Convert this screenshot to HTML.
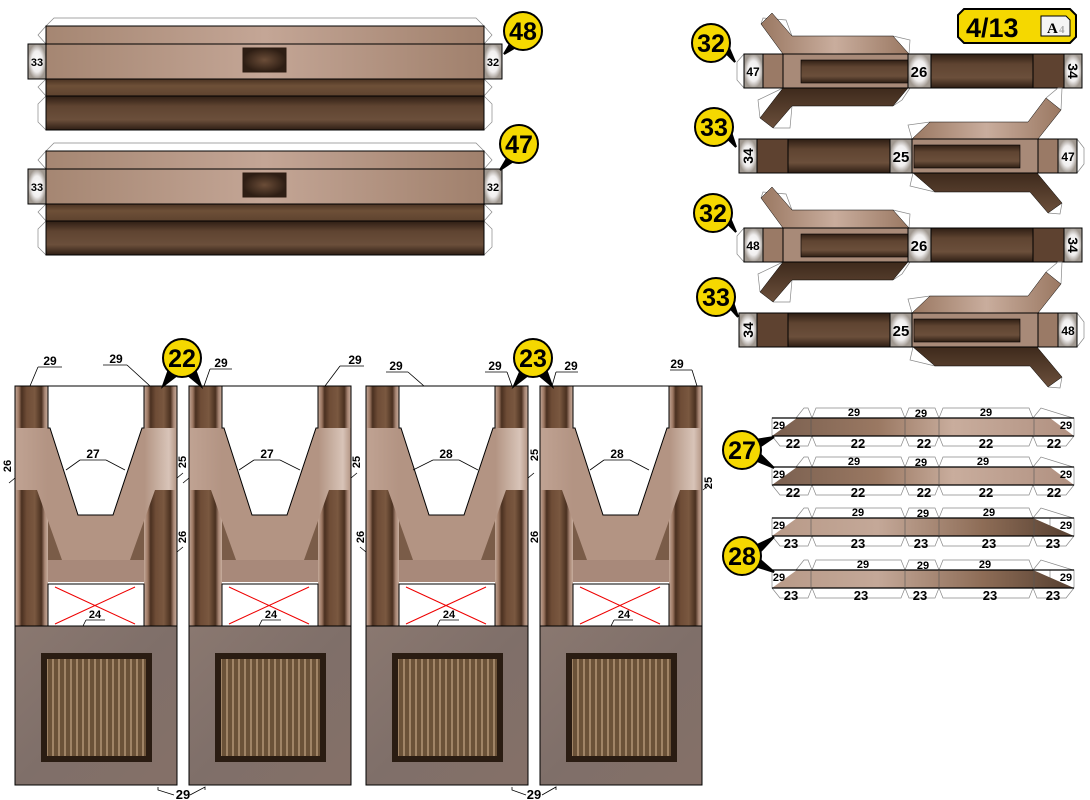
<!DOCTYPE html>
<html><head><meta charset="utf-8"><style>
html,body{margin:0;padding:0;background:#fff}
svg{display:block}
text{font-family:"Liberation Sans",sans-serif;font-weight:bold;fill:#000}
</style></head><body>
<svg width="1090" height="800" viewBox="0 0 1090 800" xmlns="http://www.w3.org/2000/svg">
<defs>
<linearGradient id="col" x1="0" x2="1" y1="0" y2="0">
<stop offset="0" stop-color="#c4a898"/><stop offset=".12" stop-color="#9a7560"/><stop offset=".2" stop-color="#4a3020"/><stop offset=".35" stop-color="#6e4c36"/><stop offset=".6" stop-color="#7a5840"/><stop offset=".8" stop-color="#4a3020"/><stop offset=".9" stop-color="#a88674"/><stop offset="1" stop-color="#c8ae9e"/>
</linearGradient>
<linearGradient id="band" x1="0" x2="1"><stop offset="0" stop-color="#c0a393"/><stop offset=".2" stop-color="#b39483"/><stop offset=".8" stop-color="#b39483"/><stop offset=".95" stop-color="#d8c4b8"/><stop offset="1" stop-color="#b39483"/></linearGradient>
<linearGradient id="dk" x1="0" x2="0" y1="0" y2="1"><stop offset="0" stop-color="#2e1e14"/><stop offset=".3" stop-color="#5f4431"/><stop offset=".7" stop-color="#6b4f3b"/><stop offset="1" stop-color="#2e1e14"/></linearGradient>
<linearGradient id="md" x1="0" x2="0" y1="0" y2="1"><stop offset="0" stop-color="#4a3222"/><stop offset=".4" stop-color="#6e5038"/><stop offset="1" stop-color="#5e432f"/></linearGradient>
<linearGradient id="lt" x1="0" x2="1"><stop offset="0" stop-color="#a58672"/><stop offset=".5" stop-color="#c4a696"/><stop offset="1" stop-color="#a0806c"/></linearGradient>
<radialGradient id="tab"><stop offset="0" stop-color="#fff"/><stop offset=".6" stop-color="#f0eeee"/><stop offset="1" stop-color="#a09890"/></radialGradient>
<radialGradient id="win"><stop offset="0" stop-color="#6b4d38"/><stop offset="1" stop-color="#2e1e14"/></radialGradient>
<linearGradient id="grey" x1="0" x2="1" y1="0" y2="1"><stop offset="0" stop-color="#8a7870"/><stop offset=".5" stop-color="#7f6f69"/><stop offset="1" stop-color="#857068"/></linearGradient>
<pattern id="stripe" width="6" height="10" patternUnits="userSpaceOnUse"><rect width="6" height="10" fill="#6b5238"/><rect x="1" width="2" height="10" fill="#a08466"/></pattern>
<linearGradient id="sm1" x1="0" x2="1"><stop offset="0" stop-color="#7a6050"/><stop offset=".35" stop-color="#9a7862"/><stop offset=".6" stop-color="#c9ad9d"/><stop offset="1" stop-color="#b09080"/></linearGradient>
<linearGradient id="sm2" x1="0" x2="1"><stop offset="0" stop-color="#b89a88"/><stop offset=".35" stop-color="#c4a898"/><stop offset=".7" stop-color="#8d6c56"/><stop offset=".95" stop-color="#5e4636"/></linearGradient>
<linearGradient id="flT" x1="0" x2="1"><stop offset="0" stop-color="#9a7862"/><stop offset=".5" stop-color="#c9ad9d"/><stop offset="1" stop-color="#9a7862"/></linearGradient>
<linearGradient id="flB" x1="0" x2="0" y1="0" y2="1"><stop offset="0" stop-color="#3e2a1c"/><stop offset="1" stop-color="#6b4f3b"/></linearGradient>

<g id="piece">
<rect x="0" y="0" width="162" height="240" fill="#fff"/>
<rect x="0" y="0" width="33" height="240" fill="url(#col)"/>
<rect x="129" y="0" width="33" height="240" fill="url(#col)"/>
<rect x="33" y="104" width="96" height="70" fill="#7a5c48"/>
<polygon points="0,42 162,42 162,104 140,104 115,174 47,174 22,104 0,104" fill="url(#band)"/>
<polygon points="35,42 63,129 98,129 127,42" fill="#fff"/>
<polyline points="33,0 33,42 35,42 63,129 98,129 127,42 129,42 129,0" fill="none" stroke="#000" stroke-width="1"/>
<rect x="33" y="174" width="96" height="22" fill="#a8897a"/>
<rect x="33" y="198" width="96" height="42" fill="#fff" stroke="#000"/>
<line x1="40" y1="201" x2="120" y2="238" stroke="#e00" stroke-width="1"/>
<line x1="40" y1="238" x2="120" y2="201" stroke="#e00" stroke-width="1"/>
<rect x="0" y="240" width="162" height="159" fill="url(#grey)"/>
<rect x="26" y="267" width="111" height="109" fill="#2a1c12"/>
<rect x="32" y="273" width="99" height="97" fill="url(#stripe)"/>
<rect x="0" y="0" width="162" height="399" fill="none" stroke="#000"/>
<line x1="0" y1="240" x2="162" y2="240" stroke="#000"/>
</g>
<g id="sm">
<path d="M796,0 L804,-10 H808 L812,0 M812,0 L816,-10 H901 L905,0 M905,0 L909,-10 H935 L939,0 M939,0 L943,-10 H1029 L1033,0 M1033,0 L1041,-10 L1073,0 M772,18 L780,28 H808 L812,18 M812,18 L816,28 H901 L905,18 M905,18 L909,28 H935 L939,18 M939,18 L943,28 H1029 L1033,18 M1033,18 L1037,28 H1066 L1074,18" fill="none" stroke="#888" stroke-width=".7"/>
<rect x="772" y="0" width="25" height="18" fill="none" stroke="#888" stroke-width=".7"/>
<rect x="1050" y="0" width="24" height="18" fill="none" stroke="#888" stroke-width=".7"/>
</g>
</defs>

<!-- top left panels -->
<g id="p48">
<path d="M46,26 L54,18 H476 L484,26 M46,26 L38,35 L46,44 M484,26 L492,35 L484,44 M46,79 L38,87 L46,96 M484,79 L492,87 L484,96 M46,96 L38,104 V122 L46,130 M484,96 L492,104 V122 L484,130" fill="none" stroke="#888" stroke-width=".7"/>
<rect x="46" y="26" width="438" height="18" fill="url(#lt)"/>
<rect x="46" y="44" width="438" height="35" fill="url(#lt)"/>
<rect x="46" y="79" width="438" height="17" fill="url(#md)"/>
<rect x="46" y="96" width="438" height="34" fill="url(#dk)"/>
<rect x="243" y="48" width="43" height="24" fill="url(#win)" stroke="#2a1a10"/>
<rect x="46" y="26" width="438" height="104" fill="none" stroke="#000"/>
<line x1="46" y1="44" x2="484" y2="44" stroke="#000"/><line x1="46" y1="79" x2="484" y2="79" stroke="#000"/><line x1="46" y1="96" x2="484" y2="96" stroke="#000"/>
<rect x="28" y="44" width="18" height="35" fill="url(#tab)" stroke="#000"/>
<rect x="484" y="44" width="18" height="35" fill="url(#tab)" stroke="#000"/>
<text x="37" y="66" font-size="11" text-anchor="middle" font-weight="normal">33</text>
<text x="493" y="66" font-size="11" text-anchor="middle" font-weight="normal">32</text>
</g>
<use href="#p48" transform="translate(0,125)"/>

<!-- badges -->
<g stroke="#000" stroke-width="2">
<polygon points="510,44 504,54 516,47" fill="#000"/>
<circle cx="523" cy="31" r="19" fill="#f5d800"/>
<polygon points="506,160 500,170 512,162" fill="#000"/>
<circle cx="519" cy="144" r="19" fill="#f5d800"/>
</g>
<text x="523" y="40" font-size="25" text-anchor="middle">48</text>
<text x="519" y="153" font-size="25" text-anchor="middle">47</text>

<!-- page label -->
<polygon points="964,9 1070,9 1076,15 1076,37 1070,43 964,43 958,37 958,15" fill="#f5d800" stroke="#000" stroke-width="2"/>
<text x="966" y="37" font-size="27">4/13</text>
<polygon points="1041,16 1066,16 1070,20 1070,36 1041,36" fill="#f4f4f4" stroke="#000"/>
<text x="1047" y="33" font-size="15" style="font-family:'Liberation Serif',serif">A</text>
<text x="1059" y="33" font-size="11" style="fill:#aaa;font-family:'Liberation Serif',serif">4</text>

<!-- right strips type 32 -->
<g id="s32">
<path d="M761,24 L763,18 L786,20 L792,36 M893,36 L910,40 L909,54 M760,118 L758,100 L783,88 M893,106 L902,100 L910,88 M773,128 L790,128 L792,106 M744,54 L737,62 V80 L744,88" fill="none" stroke="#888" stroke-width=".7"/>
<polygon points="772,13 792,36 893,36 909,54 783,54 761,24" fill="url(#flT)" stroke="#000" stroke-width=".5"/>
<polygon points="783,88 908,88 893,106 792,106 773,128 760,118" fill="url(#flB)" stroke="#000" stroke-width=".5"/>
<rect x="744" y="54" width="338" height="34" fill="url(#dk)"/>
<rect x="763" y="54" width="20" height="34" fill="#9a7a66"/>
<rect x="783" y="54" width="125" height="34" fill="#a88a78"/>
<rect x="801" y="60" width="107" height="23" fill="url(#dk)" stroke="#000" stroke-width=".6"/>
<rect x="1033" y="54" width="31" height="34" fill="#5e4230"/>
<rect x="744" y="54" width="338" height="34" fill="none" stroke="#000"/>
<line x1="763" y1="54" x2="763" y2="88" stroke="#000"/><line x1="783" y1="54" x2="783" y2="88" stroke="#000"/><line x1="1033" y1="54" x2="1033" y2="88" stroke="#000"/>
<rect x="744" y="54" width="19" height="34" fill="url(#tab)" stroke="#000"/>
<rect x="908" y="54" width="23" height="34" fill="url(#tab)" stroke="#000"/>
<rect x="1064" y="54" width="18" height="34" fill="url(#tab)" stroke="#000"/>
<text x="919" y="77" font-size="15" text-anchor="middle">26</text>
<text x="1073" y="71" font-size="14" text-anchor="middle" transform="rotate(90 1073 71)" dy="5">34</text>
</g>
<text x="753" y="76" font-size="12" text-anchor="middle">47</text>
<use href="#s32" transform="translate(0,174)"/>
<text x="753" y="250" font-size="12" text-anchor="middle">48</text>

<g id="s33">
<path d="M912,139 L908,125 L930,122 M1046,98 L1058,88 L1062,88 L1061,110 M913,173 L910,186 L935,192 M1048,213 L1060,214 L1062,203 M1077,139 L1084,148 V164 L1077,173" fill="none" stroke="#888" stroke-width=".7"/>
<polygon points="912,139 930,122 1028,122 1046,98 1061,110 1038,139" fill="url(#flT)" stroke="#000" stroke-width=".5"/>
<polygon points="913,173 1037,173 1062,203 1048,213 1030,192 935,192" fill="url(#flB)" stroke="#000" stroke-width=".5"/>
<rect x="739" y="139" width="338" height="34" fill="url(#dk)"/>
<rect x="757" y="139" width="31" height="34" fill="#5e4230"/>
<rect x="912" y="139" width="126" height="34" fill="#a88a78"/>
<rect x="914" y="145" width="106" height="23" fill="url(#dk)" stroke="#000" stroke-width=".6"/>
<rect x="1038" y="139" width="20" height="34" fill="#9a7a66"/>
<rect x="739" y="139" width="338" height="34" fill="none" stroke="#000"/>
<line x1="757" y1="139" x2="757" y2="173" stroke="#000"/><line x1="788" y1="139" x2="788" y2="173" stroke="#000"/><line x1="1038" y1="139" x2="1038" y2="173" stroke="#000"/>
<rect x="739" y="139" width="18" height="34" fill="url(#tab)" stroke="#000"/>
<rect x="890" y="139" width="22" height="34" fill="url(#tab)" stroke="#000"/>
<rect x="1058" y="139" width="19" height="34" fill="url(#tab)" stroke="#000"/>
<text x="901" y="162" font-size="15" text-anchor="middle">25</text>
<text x="748" y="156" font-size="14" text-anchor="middle" transform="rotate(-90 748 156)" dy="5">34</text>
</g>
<text x="1068" y="161" font-size="12" text-anchor="middle">47</text>
<use href="#s33" transform="translate(0,174)"/>
<text x="1068" y="335" font-size="12" text-anchor="middle">48</text>

<!-- right badges -->
<g stroke="#000" stroke-width="2">
<polygon points="725,52 735,62 729,48" fill="#000"/><circle cx="711" cy="43" r="19" fill="#f5d800"/>
<polygon points="727,138 736,147 731,132" fill="#000"/><circle cx="714" cy="127" r="19" fill="#f5d800"/>
<polygon points="726,222 736,232 730,218" fill="#000"/><circle cx="713" cy="213" r="19" fill="#f5d800"/>
<polygon points="729,307 738,317 733,302" fill="#000"/><circle cx="716" cy="297" r="19" fill="#f5d800"/>
</g>
<text x="711" y="52" font-size="25" text-anchor="middle">32</text>
<text x="714" y="136" font-size="25" text-anchor="middle">33</text>
<text x="713" y="222" font-size="25" text-anchor="middle">32</text>
<text x="716" y="306" font-size="25" text-anchor="middle">33</text>

<!-- small strips -->
<use href="#sm" transform="translate(0,418)"/><use href="#sm" transform="translate(0,467)"/><use href="#sm" transform="translate(0,518)"/><use href="#sm" transform="translate(0,570)"/>
<polygon points="797,418 1050,418 1074,436 772,436" fill="url(#sm1)"/>
<polygon points="797,467 1050,467 1074,485 772,485" fill="url(#sm1)"/>
<polygon points="797,518 1033,518 1074,536 772,536" fill="url(#sm2)"/>
<polygon points="797,570 1033,570 1074,588 772,588" fill="url(#sm2)"/>
<g stroke="#000" stroke-width="1.2">
<line x1="772" y1="418" x2="1074" y2="418"/><line x1="772" y1="436" x2="1074" y2="436"/>
<line x1="772" y1="467" x2="1074" y2="467"/><line x1="772" y1="485" x2="1074" y2="485"/>
<line x1="772" y1="518" x2="1074" y2="518"/><line x1="772" y1="536" x2="1074" y2="536"/>
<line x1="772" y1="570" x2="1074" y2="570"/><line x1="772" y1="588" x2="1074" y2="588"/>
</g>
<g stroke="#555" stroke-width=".6">
<line x1="811" y1="418" x2="811" y2="436"/><line x1="905" y1="418" x2="905" y2="436"/><line x1="939" y1="418" x2="939" y2="436"/><line x1="1034" y1="418" x2="1034" y2="436"/>
<line x1="811" y1="467" x2="811" y2="485"/><line x1="905" y1="467" x2="905" y2="485"/><line x1="939" y1="467" x2="939" y2="485"/><line x1="1034" y1="467" x2="1034" y2="485"/>
<line x1="811" y1="518" x2="811" y2="536"/><line x1="905" y1="518" x2="905" y2="536"/><line x1="939" y1="518" x2="939" y2="536"/><line x1="1034" y1="518" x2="1034" y2="536"/>
<line x1="811" y1="570" x2="811" y2="588"/><line x1="905" y1="570" x2="905" y2="588"/><line x1="939" y1="570" x2="939" y2="588"/><line x1="1034" y1="570" x2="1034" y2="588"/>
</g>
<g font-size="11" text-anchor="middle">
<text x="854" y="416">29</text><text x="921" y="417">29</text><text x="986" y="416">29</text><text x="779" y="429">29</text><text x="1066" y="429">29</text>
<text x="854" y="465">29</text><text x="921" y="466">29</text><text x="983" y="465">29</text><text x="779" y="478">29</text><text x="1066" y="478">29</text>
<text x="858" y="516">29</text><text x="923" y="517">29</text><text x="989" y="516">29</text><text x="779" y="529">29</text><text x="1066" y="529">29</text>
<text x="863" y="568">29</text><text x="923" y="569">29</text><text x="985" y="568">29</text><text x="779" y="581">29</text><text x="1066" y="581">29</text>
</g>
<g font-size="13" text-anchor="middle">
<text x="793" y="448">22</text><text x="858" y="448">22</text><text x="924" y="448">22</text><text x="986" y="448">22</text><text x="1054" y="448">22</text>
<text x="793" y="497">22</text><text x="858" y="497">22</text><text x="924" y="497">22</text><text x="986" y="497">22</text><text x="1054" y="497">22</text>
<text x="791" y="548">23</text><text x="858" y="548">23</text><text x="921" y="548">23</text><text x="989" y="548">23</text><text x="1053" y="548">23</text>
<text x="791" y="600">23</text><text x="861" y="600">23</text><text x="920" y="600">23</text><text x="990" y="600">23</text><text x="1053" y="600">23</text>
</g>
<g stroke="#000" stroke-width="2">
<polygon points="755,440 774,437 758,448" fill="#000"/><polygon points="755,460 774,468 758,452" fill="#000"/>
<circle cx="742" cy="450" r="19" fill="#f5d800"/>
<polygon points="755,546 774,537 758,554" fill="#000"/><polygon points="755,566 774,572 758,558" fill="#000"/>
<circle cx="742" cy="556" r="19" fill="#f5d800"/>
</g>
<text x="742" y="459" font-size="25" text-anchor="middle">27</text>
<text x="742" y="565" font-size="25" text-anchor="middle">28</text>

<!-- bottom pieces -->
<use href="#piece" transform="translate(15,386)"/>
<use href="#piece" transform="translate(189,386)"/>
<use href="#piece" transform="translate(366,386)"/>
<use href="#piece" transform="translate(540,386)"/>

<g fill="none" stroke="#000" stroke-width=".8">
<path d="M38,367 H62 M38,367 L30,386 M103,365 H127 M127,365 L150,386 M210,369 H232 M210,369 L204,386 M340,366 H364 M340,366 L325,386"/>
<path d="M386,372 H408 M408,372 L424,386 M485,372 H507 M507,372 L512,386 M556,372 H578 M556,372 L552,386 M670,370 H692 M692,370 L697,386"/>
<path d="M80,460 H106 M80,460 L66,470 M106,460 L125,470 M254,460 H280 M254,460 L239,470 M280,460 L300,470 M433,460 H459 M433,460 L413,470 M459,460 L478,470 M604,460 H630 M604,460 L590,470 M630,460 L649,470"/>
<path d="M86,620 H105 M86,620 L83,626 M262,620 H281 M262,620 L259,626 M440,620 H459 M440,620 L437,626 M614,620 H633 M614,620 L611,626"/>
<path d="M158,787 L158,790 L174,795 M190,795 L205,787 L205,790 M512,787 L512,790 L526,795 M542,795 L556,787 L556,790"/>
<path d="M15,478 L9,483 M177,478 L183,473 M177,552 L183,547 M189,478 L183,483 M351,478 L357,473 M366,552 L360,547 M528,478 L534,473 M703,490 L709,485"/>
</g>
<g font-size="12" text-anchor="middle">
<text x="50" y="365">29</text><text x="116" y="363">29</text><text x="221" y="367">29</text><text x="355" y="364">29</text>
<text x="396" y="370">29</text><text x="495" y="370">29</text><text x="571" y="370">29</text><text x="677" y="368">29</text>
<text x="93" y="458">27</text><text x="267" y="458">27</text><text x="446" y="458">28</text><text x="617" y="458">28</text>
<text x="95" y="618" font-size="11">24</text><text x="271" y="618" font-size="11">24</text><text x="449" y="618" font-size="11">24</text><text x="624" y="618" font-size="11">24</text>
<text x="183" y="799" font-size="13">29</text><text x="534" y="799" font-size="13">29</text>
</g>
<g font-size="11" text-anchor="middle">
<text transform="translate(11,466) rotate(-90)">26</text>
<text transform="translate(186,462) rotate(-90)">25</text>
<text transform="translate(186,537) rotate(-90)">26</text>
<text transform="translate(360,462) rotate(-90)">25</text>
<text transform="translate(364,537) rotate(-90)">26</text>
<text transform="translate(538,455) rotate(-90)">25</text>
<text transform="translate(538,537) rotate(-90)">26</text>
<text transform="translate(712,483) rotate(-90)">25</text>
</g>
<g stroke="#000" stroke-width="2">
<polygon points="168,372 163,386 176,376" fill="#000"/><polygon points="196,372 201,386 189,376" fill="#000"/>
<circle cx="182" cy="358" r="19" fill="#f5d800"/>
<polygon points="520,372 514,386 527,376" fill="#000"/><polygon points="547,372 552,386 540,376" fill="#000"/>
<circle cx="533" cy="358" r="19" fill="#f5d800"/>
</g>
<text x="182" y="367" font-size="25" text-anchor="middle">22</text>
<text x="533" y="367" font-size="25" text-anchor="middle">23</text>
</svg>
</body></html>
